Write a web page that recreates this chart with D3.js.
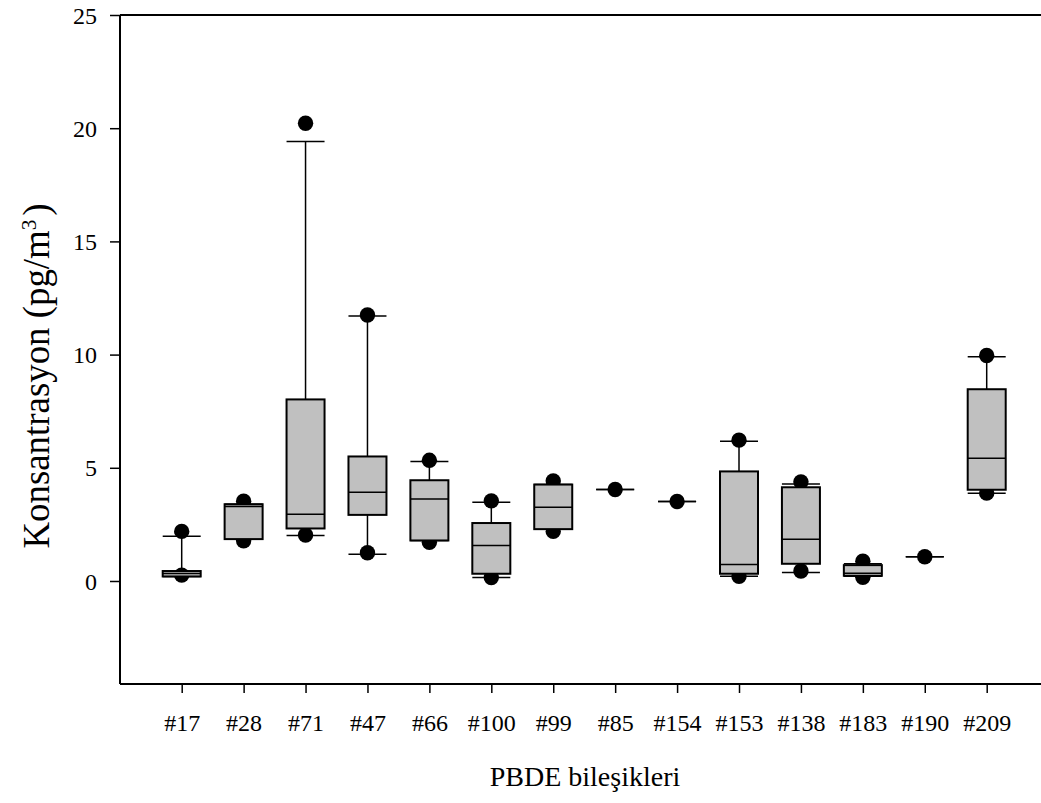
<!DOCTYPE html>
<html>
<head>
<meta charset="utf-8">
<script src="https://cdn.jsdelivr.net/npm/d3@7"></script>
<style>
  html, body { margin: 0; padding: 0; background: #fff; }
  svg { display: block; }
  text { font-family: "Liberation Serif", "Times New Roman", serif; fill: #000; }
</style>
</head>
<body>
<svg id="chart" width="1041" height="803"></svg>
<script>
// PBDE congeners on the x axis
const categories = ["#17", "#28", "#71", "#47", "#66", "#100", "#99", "#85", "#154", "#153", "#138", "#183", "#190", "#209"];

// Box statistics per congener (pg/m3); null where only one value exists
const whiskerLow  = [0.20, 1.85, 2.01, 1.18, 1.79, 0.15, 2.29, 4.04, 3.51, 0.21, 0.37, 0.21, 1.07, 3.88];
const q1          = [0.20, 1.85, 2.32, 2.92, 1.79, 0.32, 2.29, null, null, 0.32, 0.76, 0.23, null, 4.03];
const median      = [0.33, 3.29, 2.95, 3.92, 3.62, 1.57, 3.26, null, null, 0.73, 1.84, 0.34, null, 5.42];
const q3          = [0.44, 3.39, 8.02, 5.50, 4.45, 2.56, 4.26, null, null, 4.84, 4.14, 0.70, null, 8.47];
const whiskerHigh = [1.98, 3.39, 19.41, 11.70, 5.28, 3.48, 4.26, 4.04, 3.51, 6.17, 4.28, 0.76, 1.07, 9.91];

// Extreme points shown as filled dots
const outlierHigh = [2.19, 3.52, 20.22, 11.75, 5.33, 3.54, 4.42, 4.04, 3.51, 6.22, 4.38, 0.87, 1.07, 9.96];
const outlierLow  = [0.26, 1.78, 2.03, 1.25, 1.71, 0.15, 2.19, null, null, 0.21, 0.44, 0.16, null, 3.88];

const yTicks = [0, 5, 10, 15, 20, 25];

const svg = d3.select("#chart");
const plotLeft = 120, plotRight = 1041, plotTop = 15, plotBottom = 684;

const x = d3.scalePoint().domain(categories).range([181.7, 986.7]);
const y = d3.scaleLinear().domain([-4.55, 25]).range([plotBottom, plotTop]);

const boxW = 38;
const rows = categories.map((c, i) => ({
  c, lo: whiskerLow[i], q1: q1[i], med: median[i], q3: q3[i], hi: whiskerHigh[i],
  oh: outlierHigh[i], ol: outlierLow[i]
}));

// Frame
svg.append("line").attr("x1", plotLeft).attr("x2", plotRight).attr("y1", plotTop).attr("y2", plotTop)
  .attr("stroke", "#000").attr("stroke-width", 2);
svg.append("line").attr("x1", plotLeft).attr("x2", plotRight).attr("y1", plotBottom).attr("y2", plotBottom)
  .attr("stroke", "#000").attr("stroke-width", 2);
svg.append("line").attr("x1", plotLeft).attr("x2", plotLeft).attr("y1", plotTop).attr("y2", plotBottom)
  .attr("stroke", "#000").attr("stroke-width", 2);

// Y axis
const yAxis = svg.append("g").attr("transform", `translate(${plotLeft},0)`)
  .call(d3.axisLeft(y).tickValues(yTicks).tickSize(10).tickSizeOuter(0).tickPadding(13));
yAxis.select(".domain").remove();
yAxis.selectAll(".tick line").attr("stroke", "#000").attr("stroke-width", 1.5);
yAxis.selectAll(".tick text").style("font-size", "24px").attr("dy", "0.34em");

// X axis
const xAxis = svg.append("g").attr("transform", `translate(0,${plotBottom})`)
  .call(d3.axisBottom(x).tickSize(9).tickSizeOuter(0).tickPadding(21));
xAxis.select(".domain").remove();
xAxis.selectAll(".tick line").attr("stroke", "#000").attr("stroke-width", 1.5);
xAxis.selectAll(".tick text").style("font-size", "24px").attr("dy", "0.71em");

// Axis titles
svg.append("text").attr("x", 585).attr("y", 786).attr("text-anchor", "middle")
  .style("font-size", "28px").text("PBDE bileşikleri");

const yTitle = svg.append("text")
  .attr("transform", "translate(49,376) rotate(-90) scale(0.97,1)")
  .attr("text-anchor", "middle").style("font-size", "38px");
yTitle.append("tspan").text("Konsantrasyon (pg/m");
yTitle.append("tspan").attr("dy", "-0.6em").style("font-size", "22px").text("3");
yTitle.append("tspan").attr("dx", "4").attr("dy", "0.35em").text(")");

const g = svg.append("g");

// Whiskers
g.selectAll(".whisker").data(rows.filter(d => d.q1 !== null)).join("g").each(function(d) {
  const s = d3.select(this);
  s.append("line").attr("x1", x(d.c)).attr("x2", x(d.c)).attr("y1", y(d.q3)).attr("y2", y(d.hi))
    .attr("stroke", "#000").attr("stroke-width", 1.5);
  s.append("line").attr("x1", x(d.c)).attr("x2", x(d.c)).attr("y1", y(d.q1)).attr("y2", y(d.lo))
    .attr("stroke", "#000").attr("stroke-width", 1.5);
});

// Whisker caps
rows.forEach(d => {
  [d.lo, d.hi].forEach(v => {
    g.append("line").attr("x1", x(d.c) - boxW / 2).attr("x2", x(d.c) + boxW / 2)
      .attr("y1", y(v)).attr("y2", y(v)).attr("stroke", "#000").attr("stroke-width", 1.5);
  });
});

// Extreme points
const pts = [];
rows.forEach(d => { pts.push({ c: d.c, v: d.oh }); if (d.ol !== null) pts.push({ c: d.c, v: d.ol }); });
g.selectAll(".pt").data(pts).join("circle")
  .attr("cx", d => x(d.c)).attr("cy", d => y(d.v)).attr("r", 7.7).attr("fill", "#000");

// Boxes and medians
const boxes = rows.filter(d => d.q1 !== null);
g.selectAll(".box").data(boxes).join("rect")
  .attr("x", d => x(d.c) - boxW / 2).attr("width", boxW)
  .attr("y", d => y(d.q3)).attr("height", d => y(d.q1) - y(d.q3))
  .attr("fill", "#c0c0c0").attr("stroke", "#000").attr("stroke-width", 2);
g.selectAll(".med").data(boxes).join("line")
  .attr("x1", d => x(d.c) - boxW / 2).attr("x2", d => x(d.c) + boxW / 2)
  .attr("y1", d => y(d.med)).attr("y2", d => y(d.med))
  .attr("stroke", "#000").attr("stroke-width", 1.5);
</script>
</body>
</html>
